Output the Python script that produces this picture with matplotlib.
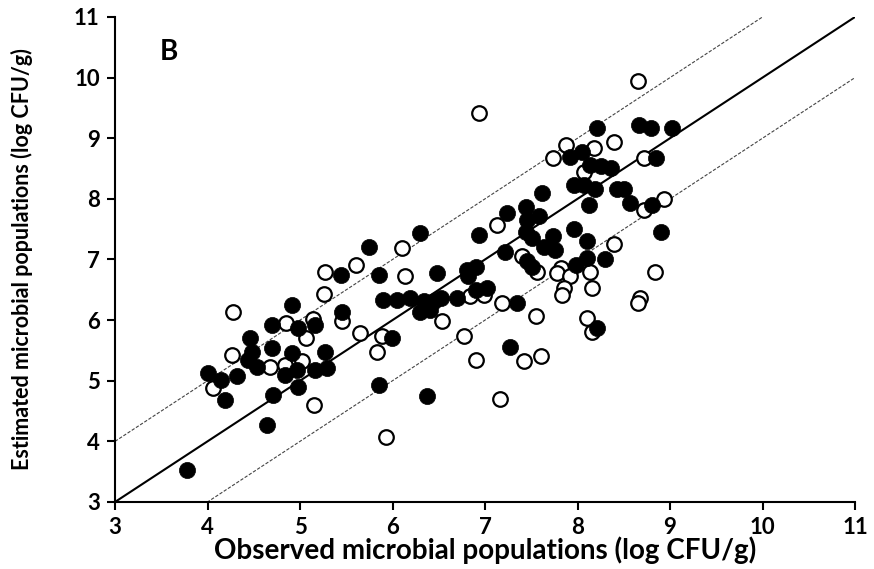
import matplotlib
matplotlib.use("Agg")
import matplotlib.pyplot as plt
import numpy as np

plt.rcParams['font.family'] = ['Lato', 'DejaVu Sans']

# observed vs estimated populations (log CFU/g)
filled_obs = [4.91, 4.70, 4.98, 5.16, 4.46, 4.70, 4.48, 4.44, 4.53, 4.91, 5.27, 4.84,
              4.97, 5.16, 5.29, 4.01, 4.15, 4.32, 4.19, 4.71, 4.98, 4.64, 3.78,
              6.30, 6.93, 5.75, 5.44, 5.85, 6.48, 5.90, 6.05, 6.19, 6.34, 6.45, 6.52,
              6.70, 6.30, 6.41, 5.45, 5.99, 5.85, 6.37,
              7.96, 8.07, 7.62, 8.12, 7.44, 7.24, 7.45, 7.58, 7.44, 7.51, 7.73, 7.96,
              8.10, 7.64, 7.76, 7.22, 7.45, 8.10, 7.98, 7.51, 6.80, 6.90, 6.82, 7.02,
              6.90, 7.35, 8.21, 7.27,
              8.21, 8.66, 8.79, 9.02, 8.05, 8.85, 8.14, 8.25, 8.36, 8.19, 8.43, 8.50,
              8.57, 8.81, 8.90, 8.30, 7.92]
filled_est = [6.25, 5.92, 5.87, 5.92, 5.70, 5.54, 5.48, 5.34, 5.23, 5.45, 5.48, 5.10,
              5.18, 5.18, 5.21, 5.12, 5.01, 5.07, 4.69, 4.77, 4.89, 4.27, 3.53,
              7.43, 7.41, 7.21, 6.75, 6.75, 6.77, 6.33, 6.33, 6.36, 6.31, 6.31, 6.36,
              6.36, 6.14, 6.17, 6.14, 5.70, 4.93, 4.74,
              8.23, 8.23, 8.10, 7.90, 7.87, 7.76, 7.65, 7.71, 7.46, 7.35, 7.38, 7.50,
              7.30, 7.20, 7.16, 7.13, 6.97, 7.02, 6.91, 6.88, 6.83, 6.88, 6.72, 6.53,
              6.49, 6.29, 5.87, 5.56,
              9.17, 9.22, 9.17, 9.17, 8.78, 8.67, 8.56, 8.54, 8.51, 8.17, 8.17, 8.17,
              7.93, 7.90, 7.45, 7.00, 8.69]

open_obs = [4.28, 5.26, 4.85, 5.14, 5.06, 4.26, 4.68, 4.84, 5.02, 4.06, 5.15,
            6.10, 5.60, 5.27, 6.14, 5.45, 5.65, 5.89, 5.83, 6.53, 6.77, 6.90, 5.93,
            8.07, 7.13, 7.40, 7.82, 7.78, 7.92, 8.14, 7.56, 6.99, 6.84, 7.18, 7.85,
            7.83, 8.16, 7.55, 8.10, 8.16, 7.42, 7.60, 7.16,
            8.39, 8.18, 8.72, 8.93, 8.72, 8.39, 8.84, 8.68, 8.65, 6.93, 8.65, 7.87, 7.74]
open_est = [6.14, 6.43, 5.96, 6.01, 5.70, 5.43, 5.23, 5.26, 5.32, 4.88, 4.60,
            7.19, 6.91, 6.80, 6.73, 5.98, 5.78, 5.73, 5.48, 5.98, 5.74, 5.34, 4.07,
            8.45, 7.57, 7.05, 6.86, 6.77, 6.72, 6.80, 6.79, 6.42, 6.39, 6.28, 6.53,
            6.42, 6.53, 6.06, 6.03, 5.81, 5.32, 5.41, 4.70,
            8.93, 8.84, 8.67, 7.99, 7.81, 7.26, 6.79, 6.36, 6.28, 9.42, 9.95, 8.89, 8.67]

ticks = [3, 4, 5, 6, 7, 8, 9, 10, 11]

fig = plt.figure(figsize=(8.74, 5.69), dpi=100)
ax = fig.add_axes([0.1316, 0.1178, 0.8467, 0.8524])

line_x = np.array([ticks[0], ticks[-1]], dtype=float)
ax.plot(line_x, line_x, color='black', lw=1.5, zorder=2)
ax.plot(line_x, line_x + 1, color='#444444', lw=0.8, ls=(0, (3, 1.5)), zorder=2)
ax.plot(line_x, line_x - 1, color='#444444', lw=0.8, ls=(0, (3, 1.5)), zorder=2)

ax.scatter(open_obs, open_est, s=110, facecolors='white', edgecolors='black',
           linewidths=1.6, zorder=3)
ax.scatter(filled_obs, filled_est, s=135, facecolors='black', edgecolors='black',
           linewidths=0.5, zorder=4)

ax.set_xlim(3, 11)
ax.set_ylim(3, 11)
ax.set_xticks(ticks)
ax.set_yticks(ticks)
for side in ['top', 'right']:
    ax.spines[side].set_visible(False)
for side in ['left', 'bottom']:
    ax.spines[side].set_linewidth(1.5)
ax.tick_params(direction='out', length=6, width=1.5, labelsize=16, pad=5)
for lab in ax.get_xticklabels() + ax.get_yticklabels():
    lab.set_fontweight('bold')

ax.set_xlabel('Observed microbial populations (log CFU/g)', fontsize=20,
              fontweight='bold', va='center')
ax.set_ylabel('Estimated microbial populations (log CFU/g)', fontsize=15.5,
              fontweight='bold', va='center')
ax.xaxis.set_label_coords(0.5, -0.099)
ax.yaxis.set_label_coords(-0.126, 0.5)
ax.text(0.06, 0.955, 'B', transform=ax.transAxes, fontsize=20, fontweight='bold',
        va='top', ha='left')

fig.savefig('out.png', dpi=100)
